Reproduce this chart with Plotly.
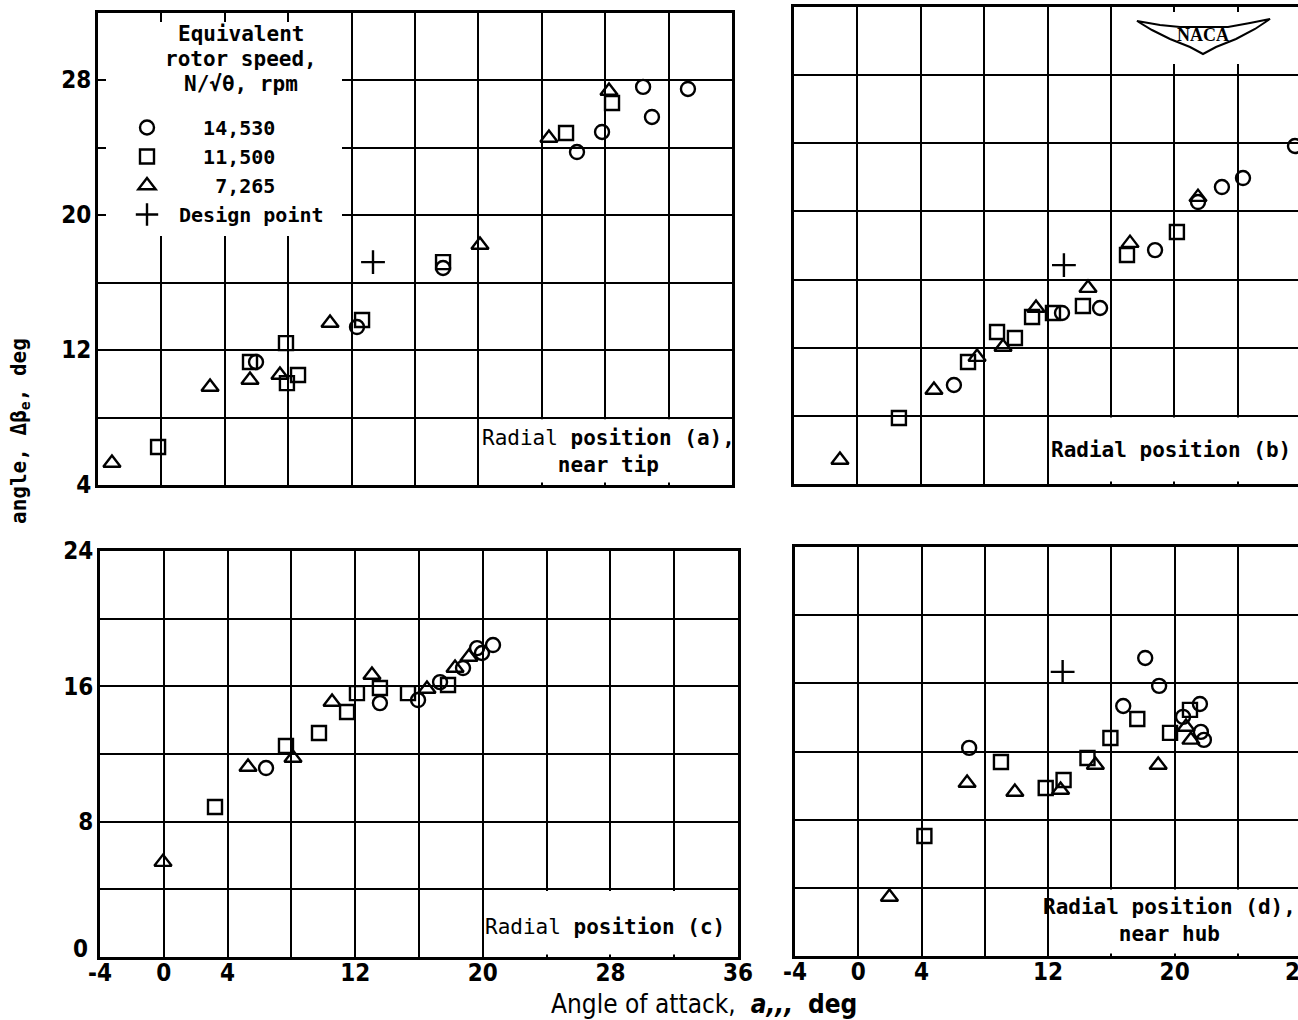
import plotly.graph_objects as go

W, H = 1298, 1020

# ---------------- data: angle of attack (deg) vs turning angle (deg) ----------------
# Radial position (a), near tip
a_c_x = [5.97, 12.34, 17.77, 26.22, 27.8, 30.39, 30.95, 33.22]
a_c_y = [11.29, 13.36, 16.86, 23.73, 24.92, 27.59, 25.81, 27.47]
a_s_x = [-0.21, 5.59, 7.86, 7.92, 8.62, 12.66, 17.77, 25.53, 28.43]
a_s_y = [6.25, 11.29, 12.41, 10.04, 10.52, 13.78, 17.21, 24.86, 26.64]
a_t_x = [-3.12, 3.07, 5.59, 7.48, 10.64, 20.1, 24.45, 28.24]
a_t_y = [5.30, 9.81, 10.22, 10.52, 13.6, 18.22, 24.56, 27.35]
a_d_x = [13.35]
a_d_y = [17.21]

# Radial position (b)
b_c_x = [6.09, 12.91, 15.31, 18.78, 21.49, 23.0, 24.33, 27.61]
b_c_y = [9.81, 14.04, 14.33, 17.73, 20.55, 21.43, 21.96, 23.84]
b_s_x = [2.62, 6.98, 8.81, 9.94, 11.02, 12.34, 14.23, 17.01, 20.16]
b_s_y = [7.87, 11.16, 12.92, 12.57, 13.80, 14.04, 14.45, 17.44, 18.79]
b_t_x = [-1.10, 4.83, 7.55, 9.19, 11.27, 14.55, 17.2, 21.49]
b_t_y = [5.41, 9.52, 11.45, 12.04, 14.33, 15.50, 18.14, 20.84]
b_d_x = [13.03]
b_d_y = [16.85]

# Radial position (c)
c_c_x = [6.41, 13.55, 15.94, 17.32, 18.76, 19.64, 19.95, 20.64]
c_c_y = [11.17, 15.01, 15.19, 16.25, 17.08, 18.26, 17.97, 18.44]
c_s_x = [3.21, 7.66, 9.73, 11.49, 12.11, 13.55, 15.31, 17.82]
c_s_y = [8.87, 12.47, 13.24, 14.48, 15.60, 15.90, 15.60, 16.08]
c_t_x = [-0.05, 5.28, 8.1, 10.55, 13.05, 16.5, 18.26, 19.13]
c_t_y = [5.61, 11.23, 11.76, 15.07, 16.67, 15.84, 17.08, 17.73]

# Radial position (d), near hub
d_c_x = [7.01, 16.75, 18.14, 19.02, 20.53, 21.6, 21.66, 21.85]
d_c_y = [12.21, 14.67, 17.49, 15.85, 14.03, 14.79, 13.15, 12.68]
d_s_x = [4.18, 9.02, 11.85, 12.98, 14.49, 15.94, 17.64, 19.71, 20.97]
d_s_y = [7.04, 11.38, 9.86, 10.33, 11.62, 12.79, 13.91, 13.09, 14.44]
d_t_x = [1.97, 6.88, 9.9, 12.79, 14.99, 18.96, 20.72, 21.03]
d_t_y = [3.46, 10.15, 9.62, 9.74, 11.21, 11.21, 13.44, 12.68]
d_d_x = [12.92]
d_d_y = [16.67]

speed_names = ["14,530", "11,500", "7,265", "Design point"]
x_ticks = [-4, 0, 4, 8, 12, 16, 20, 24, 28, 32, 36]
x_text = ["-4", "0", "4", "", "12", "", "20", "", "28", "", "36"]
ya_ticks = [4, 8, 12, 16, 20, 24, 28, 32]
ya_text = ["4", "", "12", "", "20", "", "28", ""]
yc_ticks = [0, 4, 8, 12, 16, 20, 24]
yc_text = ["", "", "8", "", "16", "", "24"]   # the "0" is placed separately (raised, as in the original)

# ---------------- helpers ----------------
def px(x):
    return x / W

def py(y):
    return 1 - y / H

NB = "\u00a0"
MONO = "DejaVu Sans Mono"
COND = "DejaVu Sans Condensed, Liberation Sans, sans-serif"

fig = go.Figure()

sym = [("circle-open", 14), ("square-open", 14), ("triangle-up-open", 15), ("cross-thin-open", 17)]
leg_names = [NB * 3 + speed_names[0], NB * 3 + speed_names[1], NB * 4 + speed_names[2], NB + speed_names[3]]

panels = [
    ("x", "y", [(a_c_x, a_c_y), (a_s_x, a_s_y), (a_t_x, a_t_y), (a_d_x, a_d_y)]),
    ("x2", "y2", [(b_c_x, b_c_y), (b_s_x, b_s_y), (b_t_x, b_t_y), (b_d_x, b_d_y)]),
    ("x3", "y3", [(c_c_x, c_c_y), (c_s_x, c_s_y), (c_t_x, c_t_y), None]),
    ("x4", "y4", [(d_c_x, d_c_y), (d_s_x, d_s_y), (d_t_x, d_t_y), (d_d_x, d_d_y)]),
]

for pi, (xa, ya, series) in enumerate(panels):
    for si, s in enumerate(series):
        if s is None:
            continue
        fig.add_trace(go.Scatter(
            x=s[0], y=s[1], mode="markers", xaxis=xa, yaxis=ya,
            name=leg_names[si], legendgroup=str(si), showlegend=(pi == 0),
            marker=dict(symbol=sym[si][0], size=sym[si][1], color="black",
                        line=dict(color="black", width=2.4)),
            hoverinfo="skip",
        ))

axis_common = dict(showline=True, linecolor="black", linewidth=3, showgrid=True,
                   gridcolor="black", gridwidth=2, zeroline=False, ticks="",
                   automargin=False,
                   tickfont=dict(family=COND, size=24, color="black", weight="bold"))

fig.update_layout(
    width=W, height=H, margin=dict(l=0, r=0, t=0, b=0, autoexpand=False),
    paper_bgcolor="white", plot_bgcolor="white",
    xaxis=dict(domain=[px(98), px(732)], range=[-4, 36], anchor="y", mirror=True,
               tickvals=x_ticks, showticklabels=False, **axis_common),
    yaxis=dict(domain=[py(485), py(12.5)], range=[4, 32], anchor="x", mirror=True,
               tickvals=ya_ticks, ticktext=ya_text, ticklabelstandoff=-1, **axis_common),
    xaxis2=dict(domain=[px(794), 1.0], range=[-4, 27.8], anchor="y2", mirror=True,
                tickvals=x_ticks, showticklabels=False, **axis_common),
    yaxis2=dict(domain=[py(484), py(7)], range=[4, 32], anchor="x2", mirror=False,
                tickvals=ya_ticks, showticklabels=False, **axis_common),
    xaxis3=dict(domain=[px(100), px(738)], range=[-4, 36], anchor="y3", mirror=True,
                tickvals=x_ticks, ticktext=x_text, ticklabelstandoff=-8, **axis_common),
    yaxis3=dict(domain=[py(957), py(551)], range=[0, 24], anchor="x3", mirror=True,
                tickvals=yc_ticks, ticktext=yc_text, ticklabelstandoff=-1, **axis_common),
    xaxis4=dict(domain=[px(795), 1.0], range=[-4, 27.8], anchor="y4", mirror=True,
                tickvals=x_ticks, ticktext=x_text, ticklabelstandoff=-8, **axis_common),
    yaxis4=dict(domain=[py(956), py(547)], range=[0, 24], anchor="x4", mirror=False,
                tickvals=yc_ticks, showticklabels=False, **axis_common),
    legend=dict(x=px(127), y=py(108), xanchor="left", yanchor="top",
                bgcolor="rgba(0,0,0,0)", borderwidth=0,
                font=dict(family=MONO, size=20, color="black", weight="bold"),
                tracegroupgap=0),
    showlegend=True,
)

shapes = []
# white box behind legend
shapes.append(dict(type="rect", xref="paper", yref="paper", x0=px(106), x1=px(342),
                   y0=py(236), y1=py(22), fillcolor="white", line=dict(width=0), layer="above"))
# white boxes behind the radial-position labels
for xr, yr, x0, x1, y0, y1 in [("x", "y", 20.2, 35.8, 4.15, 7.9),
                               ("x2", "y2", 12.2, 27.8, 4.15, 7.9),
                               ("x3", "y3", 20.2, 35.8, 0.15, 3.9),
                               ("x4", "y4", 12.2, 27.8, 0.15, 3.9)]:
    shapes.append(dict(type="rect", xref=xr, yref=yr, x0=x0, x1=x1, y0=y0, y1=y1,
                       fillcolor="white", line=dict(width=0), layer="above"))
# NACA emblem
shapes.append(dict(type="rect", xref="paper", yref="paper", x0=px(1128), x1=px(1280),
                   y0=py(64), y1=py(12), fillcolor="white", line=dict(width=0), layer="above"))
wing = [(1137, 21), (1160, 25), (1180, 27), (1228, 27), (1250, 23), (1270, 19),
        (1255, 29), (1236, 39), (1216, 47), (1203, 54), (1190, 47), (1170, 39), (1152, 30), (1137, 21)]
path = "M " + " L ".join(f"{px(x):.5f},{py(y):.5f}" for x, y in wing) + " Z"
shapes.append(dict(type="path", xref="paper", yref="paper", path=path,
                   line=dict(color="black", width=2), fillcolor="white", layer="above"))
fig.update_layout(shapes=shapes)

ann = []
# legend heading
for txt, yy in [("Equivalent", 34), ("rotor speed,", 59), ("N/\u221a\u03b8, rpm", 84)]:
    ann.append(dict(text=txt, xref="paper", yref="paper", x=px(241), y=py(yy),
                    xanchor="center", yanchor="middle", showarrow=False,
                    font=dict(family=MONO, size=21, color="black", weight="bold")))
# radial position labels
lab_font = dict(family=MONO, size=21, color="black")
ann.append(dict(text="Radial <b>position (a),</b><br><b>near tip</b>", xref="x", yref="y",
                x=28.2, y=5.99, xanchor="center", yanchor="middle", showarrow=False,
                font=lab_font, align="center"))
ann.append(dict(text="<b>Radial position (b)</b>", xref="x2", yref="y2",
                x=19.79, y=6.0, xanchor="center", yanchor="middle", showarrow=False,
                font=lab_font))
ann.append(dict(text="Radial <b>position (c)</b>", xref="x3", yref="y3",
                x=27.66, y=1.77, xanchor="center", yanchor="middle", showarrow=False,
                font=lab_font))
ann.append(dict(text="<b>Radial position (d),</b><br><b>near hub</b>", xref="x4", yref="y4",
                x=19.65, y=2.11, xanchor="center", yanchor="middle", showarrow=False,
                font=lab_font, align="center"))
# NACA text
ann.append(dict(text="NACA", xref="paper", yref="paper", x=px(1203), y=py(35),
                xanchor="center", yanchor="middle", showarrow=False,
                font=dict(family="Liberation Serif", size=18, color="black", weight="bold")))
# raised "0" on the lower-left y axis
ann.append(dict(text="0", xref="paper", yref="paper", x=px(90), y=py(949),
                xanchor="right", yanchor="middle", showarrow=False,
                font=dict(family=COND, size=24, color="black", weight="bold")))
# cut-off 28 tick on the right panel
ann.append(dict(text="28", xref="paper", yref="paper", x=px(1300), y=py(972),
                xanchor="center", yanchor="middle", showarrow=False,
                font=dict(family=COND, size=24, color="black", weight="bold")))
# axis titles
ann.append(dict(text="angle, \u0394\u03b2<sub>e</sub>, deg", xref="paper", yref="paper",
                x=px(20), y=py(431), xanchor="center", yanchor="middle", textangle=-90,
                showarrow=False, font=dict(family=MONO, size=21, color="black", weight="bold")))
ann.append(dict(text="Angle of attack," + NB + " <b><i>a,,,</i></b>" + NB + " <b>deg</b>",
                xref="paper", yref="paper",
                x=px(704), y=py(1004), xanchor="center", yanchor="middle",
                showarrow=False, font=dict(family=COND, size=26, color="black")))
fig.update_layout(annotations=ann)

# the page's default 8px body margin would shift the fixed-size figure; remove it
fig.write_html(
    "out.html",
    config={"displayModeBar": False, "staticPlot": True},
    post_script="document.body.style.margin='0';"
                "document.documentElement.style.overflow='hidden';"
                "document.body.style.overflow='hidden';",
)
